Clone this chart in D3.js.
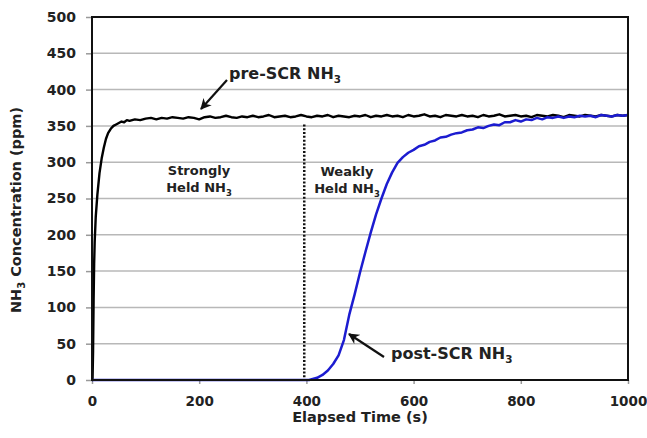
<!DOCTYPE html>
<html><head><meta charset="utf-8">
<script src="https://cdn.jsdelivr.net/npm/d3@7"></script>
<style>body{margin:0;background:#fff}svg{display:block}text{font-family:"DejaVu Sans",sans-serif;font-weight:bold;fill:#222}</style>
</head><body>
<svg id="c" width="647" height="438"></svg>
<script>
const xTicks = [0, 200, 400, 600, 800, 1000];
const yTicks = [0, 50, 100, 150, 200, 250, 300, 350, 400, 450, 500];
const preTimes = [0,1,2,3,4,5,7,10,14,18,22,26,30,35,40,45,50,55,60,65,70,80,90];
const preEarly = [0,0,40,110,160,190,225,255,285,305,320,332,340,346,350,352,354,356,355,358,357,359,358];
const preLate = [360,361,359,361,360,362,361,360,362,361,359,362,363,361,362,364,362,361,363,362,364,362,363,365,362,363,364,362,363,365,363,362,364,363,365,362,364,363,362,364,363,365,362,364,363,365,363,364,362,365,363,364,366,363,364,362,365,364,363,365,363,364,362,365,363,364,366,363,364,365,363,364,362,365,364,363,365,364,362,365,364,363,365,364,363,365,364,363,365,364,365];
const postTimes = [0,400,405,410,420,430,440,450,460,470,480,490,500,510,520,530,540,550,560,570,580,590,600,610,620,630,640,650,660,670,680,690,700,710,720,730,740,750,760,770,780,790,800,810,820,830,840,850,860,870,880,890,900,910,920,930,940,950,960,970,980,990,1000];
const postVals = [0,0,0,1,3,7,13,22,34,55,90,118,148,176,203,228,250,270,286,299,307,313,317,322,324,328,330,334,335,338,340,341,344,345,348,347,350,352,351,355,355,358,356,359,358,361,359,362,361,363,361,363,362,364,363,364,362,365,364,363,365,364,365];
const dividerTime = 396;

const preTimesAll = preTimes.concat(d3.range(100, 1001, 10));
const preVals = preEarly.concat(preLate);
const pre = preTimesAll.map((t, i) => [t, preVals[i]]);
const post = postTimes.map((t, i) => [t, postVals[i]]);

const svg = d3.select("#c");
const L = 92, R = 628, T = 17, B = 380;
const x = d3.scaleLinear().domain([0, 1000]).range([L, R]);
const y = d3.scaleLinear().domain([0, 500]).range([B, T]);

// grid
svg.append("g").selectAll("line").data(yTicks.slice(1, -1)).join("line")
  .attr("x1", L).attr("x2", R).attr("y1", d => y(d)).attr("y2", d => y(d))
  .attr("stroke", "#b8b8b8").attr("stroke-width", 1.5);

// y axis
const ya = svg.append("g").attr("transform", `translate(${L},0)`)
  .call(d3.axisLeft(y).tickValues(yTicks).tickFormat(d3.format("d")).tickSize(6).tickPadding(10));
ya.select(".domain").remove();
ya.selectAll("line").attr("stroke", "#999").attr("stroke-width", 1.5);
ya.selectAll("text").attr("font-size", 14).attr("font-family", "DejaVu Sans").attr("font-weight", "bold").attr("fill", "#222");

// x axis
const xa = svg.append("g").attr("transform", `translate(0,${B})`)
  .call(d3.axisBottom(x).tickValues(xTicks).tickFormat(d3.format("d")).tickSize(4).tickPadding(12));
xa.select(".domain").remove();
xa.selectAll("line").attr("stroke", "#999").attr("stroke-width", 1.5);
xa.selectAll("text").attr("font-size", 13.5).attr("font-family", "DejaVu Sans").attr("font-weight", "bold").attr("fill", "#222");

// divider
svg.append("line").attr("x1", x(dividerTime)).attr("x2", x(dividerTime))
  .attr("y1", y(352)).attr("y2", y(0))
  .attr("stroke", "#111").attr("stroke-width", 2.5).attr("stroke-dasharray", "2,1.8");

const line = d3.line().x(d => x(d[0])).y(d => y(d[1]));
svg.append("path").datum(pre).attr("d", line).attr("fill", "none")
  .attr("stroke", "#000").attr("stroke-width", 2.4).attr("stroke-linejoin", "round");
svg.append("path").datum(post).attr("d", line).attr("fill", "none")
  .attr("stroke", "#1c1cd0").attr("stroke-width", 2.5).attr("stroke-linejoin", "round");

// frame
svg.append("rect").attr("x", L).attr("y", T).attr("width", R - L).attr("height", B - T)
  .attr("fill", "none").attr("stroke", "#111").attr("stroke-width", 2);

// axis titles
svg.append("text").attr("x", (L + R) / 2).attr("y", 422).attr("text-anchor", "middle")
  .attr("font-size", 14.5).text("Elapsed Time (s)");
const yt = svg.append("text").attr("transform", "translate(21,210) rotate(-90)")
  .attr("text-anchor", "middle").attr("font-size", 14.5);
yt.append("tspan").text("NH");
yt.append("tspan").attr("font-size", 10).attr("dy", 4).text("3");
yt.append("tspan").attr("dy", -4).text(" Concentration (ppm)");

// annotations
function label(xp, yp, size, main, anchor) {
  const t = svg.append("text").attr("x", xp).attr("y", yp).attr("font-size", size).attr("text-anchor", anchor || "start");
  t.append("tspan").text(main);
  t.append("tspan").attr("font-size", size * 0.65).attr("dy", 4).text("3");
  return t;
}
label(229, 79, 16, "pre-SCR NH");
label(391, 359, 16, "post-SCR NH");
svg.append("text").attr("x", 199).attr("y", 175).attr("font-size", 13).attr("text-anchor", "middle").text("Strongly");
label(199, 192, 13, "Held NH", "middle");
svg.append("text").attr("x", 347).attr("y", 176).attr("font-size", 13).attr("text-anchor", "middle").text("Weakly");
label(347, 193, 13, "Held NH", "middle");

// arrows
const defs = svg.append("defs");
defs.append("marker").attr("id", "ah").attr("viewBox", "0 0 10 10").attr("refX", 9).attr("refY", 5)
  .attr("markerWidth", 5).attr("markerHeight", 5).attr("orient", "auto")
  .append("path").attr("d", "M0,0 L10,5 L0,10 L3,5 Z").attr("fill", "#111");
svg.append("line").attr("x1", 227).attr("y1", 80).attr("x2", 201).attr("y2", 109)
  .attr("stroke", "#111").attr("stroke-width", 2.2).attr("marker-end", "url(#ah)");
svg.append("line").attr("x1", 384).attr("y1", 357).attr("x2", 349).attr("y2", 334)
  .attr("stroke", "#111").attr("stroke-width", 2.2).attr("marker-end", "url(#ah)");
</script>
</body></html>
